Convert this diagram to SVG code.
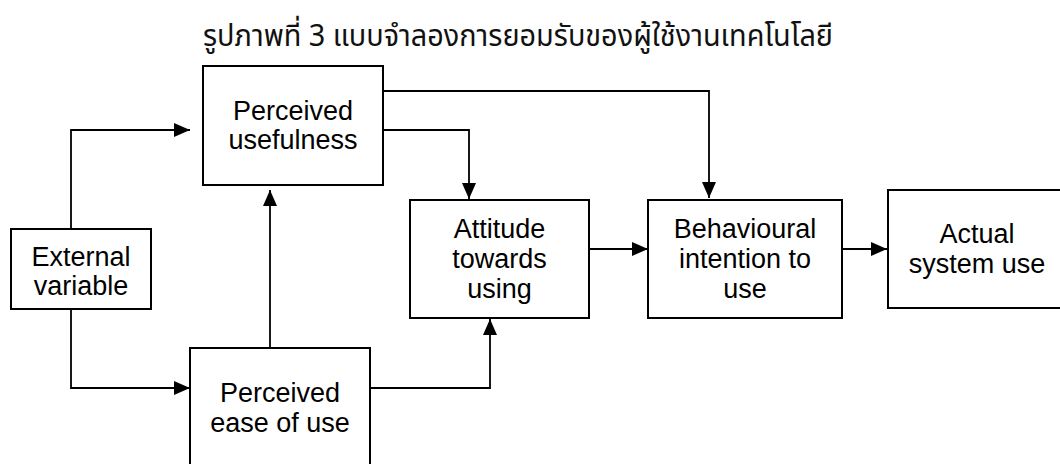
<svg xmlns="http://www.w3.org/2000/svg" width="1060" height="464" viewBox="0 0 1060 464">
  <style>
    .box { fill: #ffffff; stroke: #000000; stroke-width: 2; }
    .lbl { font-family: "Liberation Sans", Arial, sans-serif; font-size: 27px; fill: #000000; text-anchor: middle; }
    .title { font-family: "Noto Sans Thai", "Noto Sans", "DejaVu Sans", sans-serif; font-size: 30px; fill: #111111; }
    .wire { fill: none; stroke: #000000; stroke-width: 1.8; marker-end: url(#head); }
  </style>
  <defs>
    <marker id="head" markerUnits="userSpaceOnUse" markerWidth="16" markerHeight="14" refX="16" refY="7" orient="auto">
      <path d="M0,0 L16,7 L0,14 Z" fill="#000000"/>
    </marker>
  </defs>

  <rect width="1060" height="464" fill="#ffffff"/>

  <text class="title" x="203" y="46" textLength="630" lengthAdjust="spacingAndGlyphs">รูปภาพที่ 3 แบบจำลองการยอมรับของผู้ใช้งานเทคโนโลยี</text>

  <!-- connectors -->
  <g id="connectors">
    <path class="wire" d="M71,229 V130 H190"/>
    <path class="wire" d="M71,309 V388 H190"/>
    <path class="wire" d="M270,348 V190"/>
    <path class="wire" d="M370,388 H490 V319"/>
    <path class="wire" d="M383,130 H469 V199"/>
    <path class="wire" d="M383,91 H709 V198"/>
    <path class="wire" d="M589,249 H648"/>
    <path class="wire" d="M842,249 H887"/>
  </g>

  <!-- nodes -->
  <g id="perceived-usefulness">
    <rect class="box" x="203" y="66" width="180" height="119"/>
    <text class="lbl" x="293" y="120">Perceived</text>
    <text class="lbl" x="293" y="149">usefulness</text>
  </g>

  <g id="external-variable">
    <rect class="box" x="11" y="229" width="140" height="80"/>
    <text class="lbl" x="81" y="266">External</text>
    <text class="lbl" x="81" y="295">variable</text>
  </g>

  <g id="perceived-ease-of-use">
    <rect class="box" x="190" y="348" width="180" height="130"/>
    <text class="lbl" x="280" y="402">Perceived</text>
    <text class="lbl" x="280" y="432">ease of use</text>
  </g>

  <g id="attitude-towards-using">
    <rect class="box" x="410" y="200" width="179" height="118"/>
    <text class="lbl" x="499.5" y="238">Attitude</text>
    <text class="lbl" x="499.5" y="268">towards</text>
    <text class="lbl" x="499.5" y="298">using</text>
  </g>

  <g id="behavioural-intention">
    <rect class="box" x="648" y="200" width="194" height="118"/>
    <text class="lbl" x="745" y="238">Behavioural</text>
    <text class="lbl" x="745" y="268">intention to</text>
    <text class="lbl" x="745" y="298">use</text>
  </g>

  <g id="actual-system-use">
    <rect class="box" x="888" y="190" width="190" height="118"/>
    <text class="lbl" x="977" y="243">Actual</text>
    <text class="lbl" x="977" y="273">system use</text>
  </g>
</svg>
